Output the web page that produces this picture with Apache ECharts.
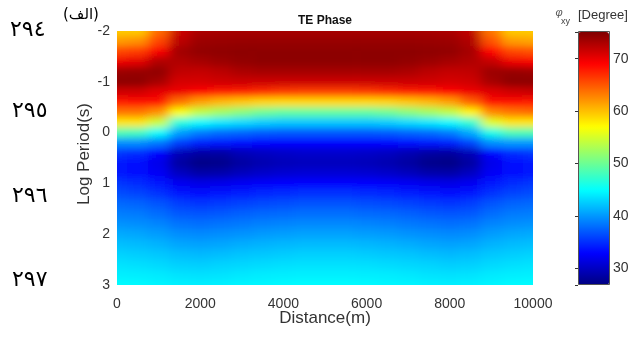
<!DOCTYPE html>
<html>
<head>
<meta charset="utf-8">
<title>TE Phase</title>
<script src="https://cdn.jsdelivr.net/npm/echarts@6/dist/echarts.min.js"></script>
<style>
  html, body { margin: 0; padding: 0; background: #fff; }
  #wrap { position: relative; width: 635px; height: 340px; }
  #base, #smooth { position: absolute; left: 0; top: 0; width: 635px; height: 340px; }
  /* interpolated-shading look: soften the cell layer, keep it inside the plot box */
  #smooth { filter: url(#soft); clip-path: inset(31px 102px 55px 117px); pointer-events: none; }
</style>
</head>
<body>
<svg width="0" height="0" style="position:absolute">
  <defs>
    <filter id="soft" x="-5%" y="-5%" width="110%" height="110%">
      <feGaussianBlur stdDeviation="6 3.5"/>
    </filter>
  </defs>
</svg>
<div id="wrap"><div id="base"></div><div id="smooth"></div></div>
<script>
// Station distances (m) along the profile
const distances = [0, 500, 1000, 1500, 2000, 2500, 3000, 3500, 4000, 4500, 5000,
                   5500, 6000, 6500, 7000, 7500, 8000, 8500, 9000, 9500, 10000];
// log10 of period (s)
const logPeriods = [-2.0, -1.8, -1.6, -1.4, -1.2, -1.0, -0.8, -0.6, -0.4, -0.2, 0.0,
                    0.2, 0.4, 0.6, 0.8, 1.0, 1.2, 1.4, 1.6, 1.8, 2.0, 2.2, 2.4, 2.6, 2.8, 3.0];
// TE phase (degrees); one row per period, one column per station
const phaseRows = [
  [59.5, 59.5, 64.0, 71.5, 73.0, 73.2, 73.3, 73.3, 73.3, 73.3, 73.3, 73.3, 73.3, 73.3, 73.3, 73.2, 73.0, 72.0, 63.5, 59.5, 59.5],
  [61.8, 62.3, 65.8, 72.3, 73.8, 73.9, 74.0, 74.0, 74.0, 74.0, 74.0, 74.0, 74.0, 74.0, 74.0, 73.9, 73.8, 72.8, 65.2, 61.8, 61.3],
  [65.8, 66.3, 69.3, 73.5, 74.2, 74.4, 74.5, 74.5, 74.5, 74.5, 74.5, 74.5, 74.5, 74.5, 74.5, 74.4, 74.2, 73.3, 68.8, 65.8, 65.3],
  [69.8, 70.3, 72.8, 72.8, 73.3, 73.8, 74.2, 74.5, 74.5, 74.5, 74.5, 74.5, 74.5, 74.5, 74.2, 73.8, 73.3, 72.8, 71.8, 69.8, 69.3],
  [73.8, 74.0, 74.3, 72.0, 71.8, 72.3, 73.0, 73.3, 73.3, 73.3, 73.3, 73.3, 73.3, 73.3, 73.0, 72.3, 71.8, 72.0, 73.8, 74.0, 73.8],
  [74.5, 74.5, 73.3, 71.0, 71.0, 71.3, 71.5, 71.5, 71.5, 71.5, 71.5, 71.5, 71.5, 71.5, 71.5, 71.3, 71.0, 71.3, 73.3, 74.5, 74.5],
  [71.3, 71.3, 70.3, 69.8, 68.8, 68.2, 67.6, 67.0, 66.4, 66.2, 66.2, 66.2, 66.4, 67.0, 67.6, 68.2, 68.8, 69.8, 70.6, 71.3, 71.6],
  [67.9, 68.3, 68.3, 63.7, 61.5, 60.3, 59.6, 59.0, 58.8, 58.8, 58.8, 58.8, 58.8, 59.0, 59.6, 60.3, 61.5, 64.5, 68.3, 68.3, 67.9],
  [63.6, 63.6, 62.2, 56.7, 53.9, 52.4, 51.2, 50.0, 49.4, 49.4, 49.4, 49.4, 49.4, 50.0, 51.2, 52.4, 53.9, 57.4, 62.7, 63.6, 64.0],
  [58.2, 58.2, 54.5, 46.5, 44.7, 43.8, 43.2, 42.6, 42.3, 42.3, 42.3, 42.3, 42.3, 42.6, 43.2, 43.8, 44.7, 47.1, 55.5, 58.2, 58.2],
  [48.5, 48.0, 45.0, 40.3, 38.6, 37.9, 37.5, 37.1, 36.9, 36.9, 36.9, 36.9, 36.9, 37.1, 37.5, 37.9, 38.6, 40.9, 46.0, 48.5, 48.5],
  [39.5, 39.5, 38.4, 35.6, 34.3, 33.8, 33.4, 33.1, 32.9, 32.9, 32.9, 32.9, 32.9, 33.1, 33.4, 33.8, 34.3, 36.0, 39.5, 40.0, 40.0],
  [35.4, 34.9, 32.9, 29.4, 28.4, 28.4, 29.4, 29.9, 30.2, 30.4, 30.4, 30.4, 30.2, 29.9, 29.2, 28.4, 28.2, 29.4, 32.9, 34.9, 35.4],
  [33.9, 33.4, 31.9, 28.4, 27.1, 27.3, 28.4, 29.1, 29.5, 29.7, 29.7, 29.7, 29.5, 29.1, 28.4, 27.3, 27.1, 28.4, 31.9, 33.4, 33.9],
  [33.9, 33.4, 32.4, 29.9, 28.7, 28.9, 29.7, 30.3, 30.7, 30.9, 30.9, 30.9, 30.7, 30.3, 29.7, 28.9, 28.7, 29.9, 32.4, 33.4, 33.9],
  [35.3, 34.9, 33.9, 32.2, 31.7, 31.9, 32.3, 32.6, 32.9, 33.1, 33.1, 33.1, 32.9, 32.6, 32.3, 31.9, 31.7, 32.2, 33.9, 34.9, 35.3],
  [36.5, 36.1, 35.2, 33.9, 33.6, 33.9, 34.3, 34.6, 34.9, 35.1, 35.1, 35.1, 34.9, 34.6, 34.3, 33.9, 33.6, 33.9, 35.2, 36.1, 36.5],
  [37.8, 37.5, 36.8, 35.7, 35.4, 35.6, 36.0, 36.3, 36.5, 36.7, 36.7, 36.7, 36.5, 36.3, 36.0, 35.6, 35.4, 35.7, 36.8, 37.5, 37.8],
  [38.8, 38.6, 38.0, 37.0, 36.8, 37.0, 37.4, 37.7, 37.9, 38.1, 38.1, 38.1, 37.9, 37.7, 37.4, 37.0, 36.8, 37.0, 38.0, 38.6, 38.8],
  [39.8, 39.6, 39.1, 38.3, 38.1, 38.3, 38.6, 38.9, 39.1, 39.3, 39.3, 39.3, 39.1, 38.9, 38.6, 38.3, 38.1, 38.3, 39.1, 39.6, 39.8],
  [40.9, 40.7, 40.2, 39.5, 39.3, 39.5, 39.8, 40.1, 40.3, 40.5, 40.5, 40.5, 40.3, 40.1, 39.8, 39.5, 39.3, 39.5, 40.2, 40.7, 40.9],
  [41.9, 41.7, 41.3, 40.7, 40.5, 40.7, 41.0, 41.3, 41.5, 41.7, 41.7, 41.7, 41.5, 41.3, 41.0, 40.7, 40.5, 40.7, 41.3, 41.7, 41.9],
  [42.8, 42.6, 42.3, 41.8, 41.6, 41.8, 42.1, 42.3, 42.5, 42.7, 42.7, 42.7, 42.5, 42.3, 42.1, 41.8, 41.6, 41.8, 42.3, 42.6, 42.8],
  [43.6, 43.4, 43.1, 42.7, 42.6, 42.8, 43.0, 43.2, 43.4, 43.5, 43.5, 43.5, 43.4, 43.2, 43.0, 42.8, 42.6, 42.7, 43.1, 43.4, 43.6],
  [44.2, 44.1, 43.9, 43.6, 43.5, 43.6, 43.8, 44.0, 44.1, 44.2, 44.2, 44.2, 44.1, 44.0, 43.8, 43.6, 43.5, 43.6, 43.9, 44.1, 44.2],
  [44.8, 44.7, 44.5, 44.3, 44.2, 44.3, 44.5, 44.6, 44.7, 44.8, 44.8, 44.8, 44.7, 44.6, 44.5, 44.3, 44.2, 44.3, 44.5, 44.7, 44.8]
];
// colour-scale limits and labelled ticks
const phaseMin = 26.8;
const phaseMax = 75.1;
const colorbarTicks = [30, 40, 50, 60, 70];
const distanceTicks = { min: 0, max: 10000, step: 2000 };
const periodTicks = { min: -2, max: 3, step: 1 };
// side line numbers of the page
const lineNumbers = ['٢٩٤', '٢٩٥', '٢٩٦', '٢٩٧'];
const panelTag = '(الف)';

// jet colormap
const jetColors = ['#000080', '#0000ff', '#0080ff', '#00ffff', '#80ff80',
                   '#ffff00', '#ff8000', '#ff0000', '#800000'];

const cells = [];
logPeriods.forEach(function (lp, i) {
  distances.forEach(function (d, j) {
    cells.push([d, lp, phaseRows[i][j]]);
  });
});

const halfDx = (distances[1] - distances[0]) / 2;
const halfDy = (logPeriods[1] - logPeriods[0]) / 2;
const xFirst = distances[0], xLast = distances[distances.length - 1];
const yFirst = logPeriods[0], yLast = logPeriods[logPeriods.length - 1];

function cellRenderer(padEdges) {
  return function (params, api) {
    const x = api.value(0), y = api.value(1);
    const a = api.coord([x - halfDx, y - halfDy]);
    const b = api.coord([x + halfDx, y + halfDy]);
    let x0 = Math.min(a[0], b[0]), x1 = Math.max(a[0], b[0]);
    let y0 = Math.min(a[1], b[1]), y1 = Math.max(a[1], b[1]);
    if (padEdges) {
      // stretch border cells outward so softening never fades at the frame
      const p = 20;
      if (x === xFirst) x0 -= p;
      if (x === xLast) x1 += p;
      if (y === yFirst) y0 -= p;
      if (y === yLast) y1 += p;
    }
    let shape = { x: x0, y: y0, width: x1 - x0 + 0.6, height: y1 - y0 + 0.6 };
    if (!padEdges) {
      const cs = params.coordSys;
      shape = echarts.graphic.clipRectByRect(shape, { x: cs.x, y: cs.y, width: cs.width, height: cs.height });
    }
    return shape && { type: 'rect', shape: shape, style: { fill: api.visual('color') } };
  };
}

const FONT = '"Liberation Sans", Arial, Helvetica, sans-serif';
const ARABIC = '"DejaVu Sans", sans-serif';

function txt(x, y, text, font, fill, align, vAlign, rotation) {
  return {
    type: 'text', x: x, y: y, rotation: rotation || 0, z: 20,
    style: { text: text, font: font, fill: fill, align: align, verticalAlign: vAlign,
             textAlign: align, textVerticalAlign: vAlign }
  };
}

const base = echarts.init(document.getElementById('base'), null, { renderer: 'canvas' });
base.setOption({
  animation: false,
  backgroundColor: '#ffffff',
  textStyle: { fontFamily: FONT },
  grid: [
    { left: 117, top: 31, width: 416, height: 254 },
    { left: 578, top: 32, width: 31, height: 253 }
  ],
  xAxis: [
    { type: 'value', gridIndex: 0, min: distanceTicks.min, max: distanceTicks.max, interval: distanceTicks.step,
      axisLine: { show: false }, axisTick: { show: false }, splitLine: { show: false },
      axisLabel: { fontSize: 14, color: '#333', margin: 12, fontFamily: FONT,
                   formatter: function (v) { return String(v); } } },
    { type: 'value', gridIndex: 1, min: 0, max: 1, show: false }
  ],
  yAxis: [
    { type: 'value', gridIndex: 0, min: periodTicks.min, max: periodTicks.max, interval: periodTicks.step, inverse: true,
      axisLine: { show: false }, axisTick: { show: false }, splitLine: { show: false },
      axisLabel: { fontSize: 14, color: '#333', margin: 7, fontFamily: FONT,
                   formatter: function (v) { return String(v); } } },
    { type: 'value', gridIndex: 1, position: 'right', min: phaseMin, max: phaseMax, splitNumber: 5, z: 8,
      axisLine: { show: false }, splitLine: { show: false },
      axisTick: { show: true, inside: true, length: 3, lineStyle: { color: '#333', width: 1 } },
      axisLabel: { fontSize: 14, color: '#333', margin: 4, fontFamily: FONT,
        formatter: function (v) {
          const r = Math.round(v);
          return (Math.abs(v - r) < 1e-6 && colorbarTicks.indexOf(r) >= 0) ? String(r) : '';
        } } }
  ],
  visualMap: {
    type: 'continuous', min: phaseMin, max: phaseMax, seriesIndex: 0, dimension: 2,
    orient: 'vertical', left: 578, top: 32, itemWidth: 31, itemHeight: 253, padding: 0,
    calculable: false, hoverLink: false, text: null, inRange: { color: jetColors }
  },
  graphic: [
    txt(325, 21, 'TE Phase', 'bold 12px ' + FONT, '#111', 'center', 'middle'),
    txt(84, 154, 'Log Period(s)', '17px ' + FONT, '#333', 'center', 'middle', Math.PI / 2),
    txt(325, 318, 'Distance(m)', '17px ' + FONT, '#333', 'center', 'middle'),
    txt(559, 13, 'φ', 'italic 11px ' + FONT, '#555', 'center', 'middle'),
    txt(561, 22, 'xy', '9px ' + FONT, '#444', 'left', 'middle'),
    txt(578, 15, '[Degree]', '13px ' + FONT, '#333', 'left', 'middle'),
    { type: 'rect', z: 30, shape: { x: 578.5, y: 31.5, width: 31, height: 253 },
      style: { fill: 'none', stroke: '#555', lineWidth: 1 } },
    txt(10, 30, lineNumbers[0], '22px ' + ARABIC, '#000', 'left', 'middle'),
    txt(63, 15, panelTag, '15px ' + ARABIC, '#000', 'left', 'middle'),
    txt(12, 111, lineNumbers[1], '22px ' + ARABIC, '#000', 'left', 'middle'),
    txt(12, 196, lineNumbers[2], '22px ' + ARABIC, '#000', 'left', 'middle'),
    txt(12, 280, lineNumbers[3], '22px ' + ARABIC, '#000', 'left', 'middle')
  ],
  series: [{
    type: 'custom', xAxisIndex: 0, yAxisIndex: 0, data: cells,
    encode: { x: 0, y: 1 }, renderItem: cellRenderer(false)
  }]
});

const smooth = echarts.init(document.getElementById('smooth'), null, { renderer: 'canvas' });
smooth.setOption({
  animation: false,
  grid: { left: 117, top: 31, width: 416, height: 254 },
  xAxis: { type: 'value', min: distanceTicks.min, max: distanceTicks.max, show: false },
  yAxis: { type: 'value', min: periodTicks.min, max: periodTicks.max, inverse: true, show: false },
  visualMap: { type: 'continuous', show: false, min: phaseMin, max: phaseMax, dimension: 2,
               inRange: { color: jetColors } },
  series: [{
    type: 'custom', data: cells, encode: { x: 0, y: 1 }, renderItem: cellRenderer(true)
  }]
});
</script>
</body>
</html>
